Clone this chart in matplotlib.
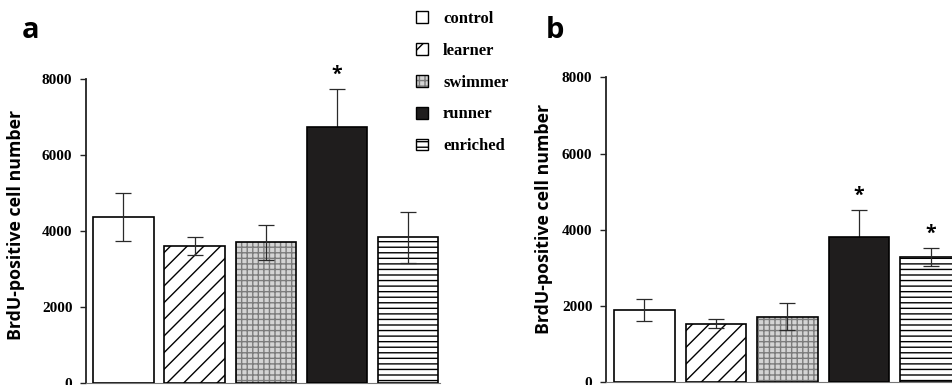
import matplotlib
matplotlib.use("Agg")
import matplotlib.pyplot as plt
from matplotlib.patches import Patch
from matplotlib.legend_handler import HandlerTuple

groups = ["control", "learner", "swimmer", "runner", "enriched"]
a_means = [4370, 3610, 3700, 6740, 3830]
a_errs = [630, 240, 470, 1000, 660]
a_stars = [False, False, False, True, False]
b_means = [1900, 1540, 1720, 3800, 3290]
b_errs = [280, 120, 360, 715, 240]
b_stars = [False, False, False, True, True]
yticks = [0, 2000, 4000, 6000, 8000]
ylabel = "BrdU-positive cell number"

plt.rcParams["hatch.linewidth"] = 1.0

styles = {
    "control": dict(face="white", hatch=None, hcol="black", err_z=4),
    "learner": dict(face="white", hatch="//", hcol="black", err_z=4),
    "swimmer": dict(face="#d4d4d4", hatch="+++", hcol="#7c7c7c", err_z=4),
    "runner": dict(face="#1f1d1d", hatch=None, hcol="black", err_z=1.5),
    "enriched": dict(face="white", hatch="---", hcol="black", err_z=4),
}

W, H = 953, 385
fig = plt.figure(figsize=(W / 100, H / 100), dpi=100)

serif_bold = dict(family="Liberation Serif", weight="bold")
sans = ["Open Sans", "DejaVu Sans"]


def panel(rect, means, errs, stars, xlim, lab_x, lab_y):
    ax = fig.add_axes(rect)
    xs = list(range(len(groups)))
    for x, g, m, e in zip(xs, groups, means, errs):
        st = styles[g]
        ax.bar(x, m, width=0.85, color=st["face"], edgecolor=st["hcol"],
               hatch=st["hatch"], linewidth=0, zorder=2)
        ax.bar(x, m, width=0.85, fill=False, edgecolor="black",
               linewidth=1.2, zorder=3)
        ax.errorbar([x], [m], yerr=[e], fmt="none", ecolor="#2a2a2a",
                    elinewidth=0.9, capsize=6, capthick=0.9, zorder=st["err_z"])
    for x, m, e, s in zip(xs, means, errs, stars):
        if s:
            ax.annotate("*", (x, m + e), xytext=(0, 10), textcoords="offset points",
                        ha="center", va="center", fontsize=14, fontweight="bold",
                        family=sans, annotation_clip=False)
    ax.set_xlim(*xlim)
    ax.set_ylim(0, 8000)
    ax.set_yticks(yticks)
    ax.set_yticklabels([str(t) for t in yticks], fontdict=dict(size=11, **serif_bold))
    ax.tick_params(axis="y", length=4.3, width=1.0, pad=5.5, color="#222222")
    ax.set_xticks([])
    for s in ("top", "right"):
        ax.spines[s].set_visible(False)
    ax.spines["left"].set_linewidth(1.3)
    ax.spines["left"].set_color("#222222")
    ax.spines["bottom"].set_linewidth(0.8)
    ax.spines["bottom"].set_color("#777777")
    ax.set_ylabel(ylabel, fontsize=12.8, fontweight="bold", family=sans)
    ax.yaxis.set_label_coords(lab_x, lab_y)
    ax.patch.set_visible(False)
    return ax


# panel a
ax_a = panel([86 / W, 2 / H, (440 - 86) / W, 304 / H], a_means, a_errs, a_stars,
             (-0.527, 4.45), -0.172, 0.52)
# panel b
ax_b = panel([606 / W, 2.7 / H, (980 - 606) / W, 305 / H], b_means, b_errs, b_stars,
             (-0.536, 4.69), -0.142, 0.535)

fig.text(22 / W, 1 - 38 / H, "a", fontsize=21, fontweight="bold", family=sans,
         va="baseline", ha="left")
fig.text(546 / W, 1 - 38 / H, "b", fontsize=21, fontweight="bold", family=sans,
         va="baseline", ha="left")

handles = []
for g in groups:
    st = styles[g]
    if g == "swimmer":
        handles.append((Patch(facecolor=st["face"], edgecolor=st["hcol"], hatch=st["hatch"], linewidth=0),
                        Patch(fill=False, edgecolor="black", linewidth=1.0)))
    else:
        handles.append(Patch(facecolor=st["face"], edgecolor="black", hatch=st["hatch"], linewidth=1.0))

fig.legend(handles, groups, loc="upper left", bbox_to_anchor=(416 / W, 1 - 11 / H),
           frameon=False, borderpad=0, borderaxespad=0, handlelength=0.72,
           handleheight=0.72, handletextpad=0.9, labelspacing=0.95,
           prop=dict(size=12, **serif_bold),
           handler_map={tuple: HandlerTuple(ndivide=1)})

fig.savefig("out.png", dpi=100)
